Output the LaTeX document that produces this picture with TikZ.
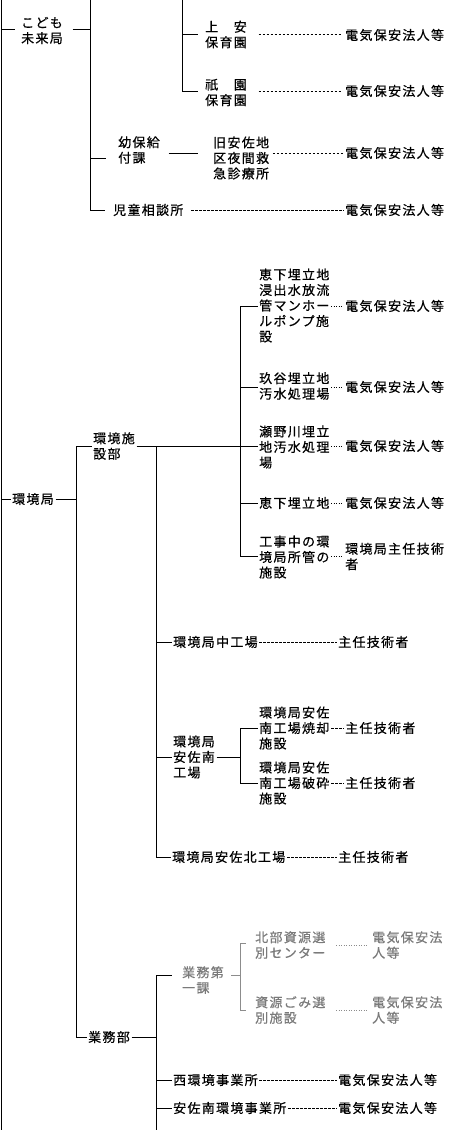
\documentclass[tikz,border=0pt]{standalone}
\usepackage{fontspec}
\newfontfamily\jpf[LetterSpace=10,FakeBold=0.5]{Noto Sans CJK JP}
\definecolor{graytxt}{HTML}{7A7A7A}
\definecolor{grayln}{HTML}{8C8C8C}
\begin{document}
\begin{tikzpicture}[x=1pt,y=-1pt,
  lbl/.style={anchor=west,inner xsep=1.5pt,inner ysep=1pt,align=left,font=\jpf\fontsize{13}{15.5}\selectfont},
  glbl/.style={lbl,text=graytxt},
  ln/.style={line width=1pt},
  gln/.style={line width=1pt,draw=grayln},
  dsh/.style={line width=0.9pt,dash pattern=on 2.5pt off 1.5pt},
  dot/.style={line width=0.9pt,dash pattern=on 1.2pt off 1.3pt},
  gdot/.style={line width=0.9pt,draw=grayln,dash pattern=on 1.2pt off 1.3pt}]
\useasboundingbox (0,0) rectangle (448,1130);
\fill[white] (0,0) rectangle (448,1130);

% ---------- top section ----------
\node[lbl] (kodomo) at (19.5,30.5) {こども\\未来局};
\node[lbl] (joan) at (203.5,34.5) {上　安\\保育園};
\node[lbl] (gion) at (203.5,92.5) {祇　園\\保育園};
\node[lbl] (yoho) at (116.5,150) {幼保給\\付課};
\node[lbl] (kyu) at (211.5,158) {旧安佐地\\区夜間救\\急診療所};
\node[lbl] (jido) at (111.5,210) {児童相談所};
\node[lbl] (e1) at (343.5,35) {電気保安法人等};
\node[lbl] (e2) at (343.5,91) {電気保安法人等};
\node[lbl] (e3) at (343.5,153) {電気保安法人等};
\node[lbl] (e4) at (343.5,210) {電気保安法人等};

\coordinate (L0) at (1,0); \coordinate (L1) at (1,1130);
\coordinate (A0) at (90,0); \coordinate (A1) at (90,210);
\coordinate (A2) at (90,158);
\coordinate (B0) at (182,0); \coordinate (B1) at (182,91);
\coordinate (B2) at (182,34);
\coordinate (Kl) at (1,29); \coordinate (Kr) at (90,29);
\coordinate (r153) at (0,153);

\draw[ln] (L0) -- (L1);
\draw[ln] (A0) -- (A1);
\draw[ln] (B0) -- (B1);
\draw[ln,shorten >=4.5pt] (Kl) -- (Kl -| kodomo.west);
\draw[ln,shorten <=8pt] (Kr -| kodomo.east) -- (Kr);
\draw[ln,shorten >=6pt] (B2) -- (B2 -| joan.west);
\draw[ln,shorten >=6pt] (B1) -- (B1 -| gion.west);
\draw[dsh,shorten <=10pt,shorten >=3pt] (joan.east) -- (joan.east -| e1.west);
\draw[dsh,shorten <=10pt,shorten >=3pt] (gion.east |- B1) -- (e2.west);
\draw[ln,shorten >=11pt] (A2) -- (A2 -| yoho.west);
\draw[ln,shorten <=7pt,shorten >=13.5pt] (yoho.east |- r153) -- (kyu.west |- r153);
\draw[dsh,shorten <=2pt] (kyu.east |- r153) -- (e3.west);
\draw[ln,shorten >=6.5pt] (A1) -- (A1 -| jido.west);
\draw[dsh,shorten <=6pt] (jido.east) -- (e4.west);

% ---------- environment bureau ----------
\node[lbl] (kankyo) at (10.5,499) {環境局};
\node[lbl] (shisetsu) at (91.5,446) {環境施\\設部};
\node[lbl] (ek1) at (257.5,305.5) {恵下埋立地\\浸出水放流\\管マンホー\\ルポンプ施\\設};
\node[lbl] (kud) at (257.5,386) {玖谷埋立地\\汚水処理場};
\node[lbl] (seno) at (257.5,447) {瀬野川埋立\\地汚水処理\\場};
\node[lbl] (ek2) at (257.5,503) {恵下埋立地};
\node[lbl] (koji) at (257.5,557) {工事中の環\\境局所管の\\施設};
\node[lbl] (f1) at (343.5,306) {電気保安法人等};
\node[lbl] (f2) at (343.5,387) {電気保安法人等};
\node[lbl] (f3) at (343.5,446) {電気保安法人等};
\node[lbl] (f4) at (343.5,503) {電気保安法人等};
\node[lbl] (f5) at (343.5,556.5) {環境局主任技術\\者};

\coordinate (C0) at (76,446); \coordinate (C1) at (76,1037);
\coordinate (Ka) at (1,499); \coordinate (Kb) at (76,499);
\coordinate (D0) at (156,446); \coordinate (D1) at (156,857);
\coordinate (E0) at (240,306); \coordinate (E1) at (240,556);
\coordinate (E387) at (240,387); \coordinate (E446) at (240,446);
\coordinate (E503) at (240,503);

\draw[ln] (C0) -- (C1);
\draw[ln] (Ka) -- (Ka -| kankyo.west);
\draw[ln] (Kb -| kankyo.east) -- (Kb);
\draw[ln] (C0) -- (C0 -| shisetsu.west);
\draw[ln] (C0 -| shisetsu.east) -- (E446);
\draw[ln] (D0) -- (D1);
\draw[ln] (E0) -- (E1);
\draw[ln] (E0) -- (E0 -| ek1.west);
\draw[ln] (E387) -- (E387 -| kud.west);
\draw[ln] (E446) -- (E446 -| seno.west);
\draw[ln] (E503) -- (E503 -| ek2.west);
\draw[ln] (E1) -- (E1 -| koji.west);
\draw[dot] (ek1.east |- E0) -- (f1.west);
\draw[dot] (kud.east |- E387) -- (f2.west);
\draw[dot] (seno.east |- E446) -- (f3.west);
\draw[dot] (ek2.east) -- (f4.west);
\draw[dot] (koji.east |- E1) -- (f5.west |- E1);

% plants
\node[lbl] (naka) at (171.5,642) {環境局中工場};
\node[lbl] (g1) at (336.5,642) {主任技術者};
\node[lbl] (minami) at (171.5,757) {環境局\\安佐南\\工場};
\node[lbl] (shok) at (257.5,728) {環境局安佐\\南工場焼却\\施設};
\node[lbl] (hasai) at (257.5,783) {環境局安佐\\南工場破砕\\施設};
\node[lbl] (g2) at (343.5,728) {主任技術者};
\node[lbl] (g3) at (343.5,783) {主任技術者};
\node[lbl] (kita) at (170.5,857) {環境局安佐北工場};
\node[lbl] (g4) at (336.5,857) {主任技術者};

\coordinate (D642) at (156,642); \coordinate (D757) at (156,757);
\coordinate (F0) at (240,728); \coordinate (F1) at (240,783);
\coordinate (F757) at (240,757);

\draw[ln] (D642) -- (D642 -| naka.west);
\draw[dsh] (naka.east) -- (g1.west);
\draw[ln] (D757) -- (D757 -| minami.west);
\draw[ln] (D757 -| minami.east) -- (F757);
\draw[ln] (F0) -- (F1);
\draw[ln] (F0) -- (F0 -| shok.west);
\draw[ln] (F1) -- (F1 -| hasai.west);
\draw[dsh] (shok.east |- F0) -- (g2.west);
\draw[dsh] (hasai.east |- F1) -- (g3.west);
\draw[ln] (D1) -- (D1 -| kita.west);
\draw[dsh] (kita.east) -- (g4.west);

% ---------- operations department ----------
\node[glbl] (gyomu1) at (180.5,980) {業務第\\一課};
\node[glbl] (hokubu) at (253.5,945) {北部資源選\\別センター};
\node[glbl] (shigen) at (253.5,1010) {資源ごみ選\\別施設};
\node[glbl] (h1) at (370.5,945) {電気保安法\\人等};
\node[glbl] (h2) at (370.5,1010) {電気保安法\\人等};
\node[lbl] (gyomubu) at (86.5,1037) {業務部};
\node[lbl] (nishi) at (171.5,1080) {西環境事業所};
\node[lbl] (n1) at (336.5,1080) {電気保安法人等};
\node[lbl] (asam) at (171.5,1108) {安佐南環境事業所};
\node[lbl] (n2) at (336.5,1108) {電気保安法人等};

\coordinate (D975) at (156,975); \coordinate (D1130) at (156,1130);
\coordinate (D1037) at (156,1037);
\coordinate (D1080) at (156,1080); \coordinate (D1108) at (156,1108);
\coordinate (G975) at (240,975);
\coordinate (G0) at (240,943); \coordinate (G1) at (240,1010);
\coordinate (Gd0) at (0,945);

\draw[ln] (D975) -- (D1130);
\draw[ln,shorten >=8.5pt] (D975) -- (D975 -| gyomu1.west);
\draw[gln,shorten <=5.5pt] (gyomu1.east |- G975) -- (G975);
\draw[gln] (G0) -- (G1);
\draw[gln,shorten >=7.5pt] (G0) -- (G0 -| hokubu.west);
\draw[gln,shorten >=7.5pt] (G1) -- (G1 -| shigen.west);
\draw[gdot,shorten <=9pt,shorten >=3.5pt] (hokubu.east |- Gd0) -- (h1.west |- Gd0);
\draw[gdot,shorten <=9pt,shorten >=3.5pt] (hokubu.east |- G1) -- (h2.west);
\draw[ln] (C1) -- (C1 -| gyomubu.west);
\draw[ln] (C1 -| gyomubu.east) -- (D1037);
\draw[ln] (D1080) -- (D1080 -| nishi.west);
\draw[dsh] (nishi.east) -- (n1.west);
\draw[ln] (D1108) -- (D1108 -| asam.west);
\draw[dsh] (asam.east) -- (n2.west);
\end{tikzpicture}
\end{document}
